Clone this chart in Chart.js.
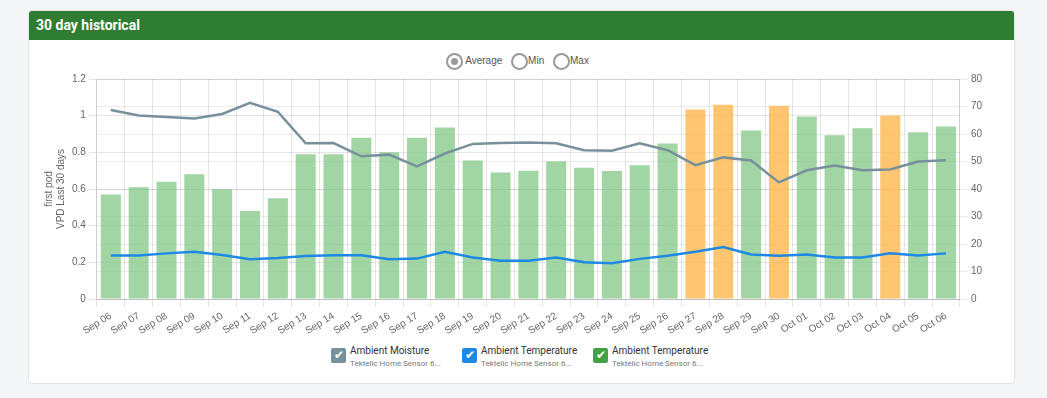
<!DOCTYPE html>
<html>
<head>
<meta charset="utf-8">
<script src="https://cdn.jsdelivr.net/npm/chart.js@4.4.0/dist/chart.umd.min.js"></script>
<style>
    body { margin: 0; background: #f4f5f7; font-family: Roboto, "Liberation Sans", sans-serif; }
    .card { position: absolute; left: 28px; top: 10px; width: 985px; height: 372px; background: #fff;
            border: 1px solid #e2e4e8; border-radius: 4px; overflow: hidden; }
    .card-head { height: 29px; background: #2e7d32; color: #fff; font-weight: bold; font-size: 14px;
                 line-height: 29px; padding-left: 7px; }
    .radios { position: absolute; top: 42px; left: 417px; font-size: 10px; color: #555; font-family: "Liberation Sans", sans-serif; }
    .radio { display: inline-block; margin-right: 6px; }
    .radio span.c { display: inline-block; width: 13px; height: 13px; border: 2px solid #999; border-radius: 50%;
                    vertical-align: middle; position: relative; box-sizing: content-box; }
    .radio span.c.on::after { content: ''; position: absolute; left: 3px; top: 3px; width: 7px; height: 7px;
                              border-radius: 50%; background: #999; }
    .chartbox { position: absolute; left: 0; top: 58px; width: 985px; height: 271px; }
    .legend { position: absolute; top: 334px; left: 273px; font-size: 10px; color: #333; }
    .item { position: absolute; top: 0; white-space: nowrap; }
    .box { position: absolute; left: 0; top: 3px; width: 15px; height: 15px; border-radius: 2px; color: #fff;
           font-size: 12px; line-height: 15px; text-align: center; }
    .lbl { position: absolute; left: 19px; top: 0; }
    .sub { position: absolute; left: 19px; top: 14px; font-size: 8px; color: #777; }
</style>
</head>
<body>
<div class="card">
    <div class="card-head">30 day historical</div>
    <div class="radios">
        <span class="radio"><span class="c on"></span> Average</span>
        <span class="radio"><span class="c"></span>Min</span>
        <span class="radio"><span class="c"></span>Max</span>
    </div>
    <div class="chartbox"><canvas id="histChart"></canvas></div>
    <div class="legend" id="legend"></div>
</div>
<script>
// 日期
const days = ['Sep 06', 'Sep 07', 'Sep 08', 'Sep 09', 'Sep 10', 'Sep 11', 'Sep 12', 'Sep 13', 'Sep 14', 'Sep 15',
    'Sep 16', 'Sep 17', 'Sep 18', 'Sep 19', 'Sep 20', 'Sep 21', 'Sep 22', 'Sep 23', 'Sep 24', 'Sep 25',
    'Sep 26', 'Sep 27', 'Sep 28', 'Sep 29', 'Sep 30', 'Oct 01', 'Oct 02', 'Oct 03', 'Oct 04', 'Oct 05', 'Oct 06'];

// VPD (左軸, 長條)
const vpd = [0.57, 0.61, 0.64, 0.68, 0.60, 0.48, 0.55, 0.79, 0.79, 0.88,
    0.80, 0.88, 0.935, 0.756, 0.69, 0.70, 0.752, 0.716, 0.698, 0.729,
    0.848, 1.034, 1.059, 0.919, 1.054, 0.995, 0.893, 0.932, 1.001, 0.91, 0.941];

// 濕度 (右軸)
const moisture = [68.7, 66.7, 66.2, 65.6, 67.3, 71.3, 68.1, 56.6, 56.7, 51.9,
    52.5, 48.2, 52.9, 56.4, 56.7, 56.9, 56.6, 54.1, 53.9, 56.6,
    54.1, 48.7, 51.5, 50.4, 42.4, 46.8, 48.5, 46.8, 47.1, 50.0, 50.5];

// 溫度 (右軸)
const temperature = [15.8, 15.8, 16.6, 17.2, 16.0, 14.5, 14.9, 15.6, 15.9, 15.9,
    14.5, 14.7, 17.2, 15.1, 13.9, 13.9, 15.1, 13.4, 13.0, 14.6,
    15.7, 17.2, 18.9, 16.2, 15.7, 16.2, 15.1, 15.1, 16.6, 15.8, 16.6];

const leftTicks = [0, 0.2, 0.4, 0.6, 0.8, 1, 1.2];
const rightTicks = [0, 10, 20, 30, 40, 50, 60, 70, 80];

const legendItems = [
    { name: 'Ambient Moisture', sub: 'Tektelic Home Sensor 6...', color: '#78909c', left: 29 },
    { name: 'Ambient Temperature', sub: 'Tektelic Home Sensor 6...', color: '#1e88e5', left: 160 },
    { name: 'Ambient Temperature', sub: 'Tektelic Home Sensor 6...', color: '#43a047', left: 291 }
];

// 超過 1 用橘色
let barColors = vpd.map(v => v >= 1 ? 'rgba(255, 183, 77, 0.8)' : 'rgba(129, 199, 132, 0.75)');

const tickFont = { family: 'Liberation Sans', size: 10 };

const ctx = document.getElementById('histChart').getContext('2d');
const histChart = new Chart(ctx, {
    type: 'bar',
    data: {
        labels: days,
        datasets: [{
            type: 'line',
            label: 'Ambient Moisture',
            data: moisture,
            yAxisID: 'y1',
            borderColor: '#78909c',
            borderWidth: 2.5,
            pointRadius: 0,
            tension: 0,
            fill: false
        }, {
            type: 'line',
            label: 'Ambient Temperature',
            data: temperature,
            yAxisID: 'y1',
            borderColor: '#1e88e5',
            borderWidth: 2.5,
            pointRadius: 0,
            tension: 0,
            fill: false
        }, {
            label: 'Ambient Temperature',
            data: vpd,
            yAxisID: 'y',
            backgroundColor: barColors,
            borderWidth: 0
        }]
    },
    options: {
        responsive: true,
        maintainAspectRatio: false,
        animation: false,
        layout: { padding: { left: 12, right: 29, top: 10, bottom: 0 } },
        plugins: {
            legend: { display: false },
            tooltip: { enabled: false }
        },
        scales: {
            x: {
                grid: { color: 'rgba(0,0,0,0.1)' },
                ticks: { font: tickFont, color: '#666', minRotation: 32, maxRotation: 32, autoSkip: false }
            },
            y: {
                position: 'left',
                min: 0,
                max: 1.2,
                afterBuildTicks: axis => { axis.ticks = leftTicks.map(v => ({ value: v })); },
                grid: { color: 'rgba(0,0,0,0.1)' },
                ticks: { font: tickFont, color: '#666', callback: v => String(v) },
                title: { display: true, text: ['first pod', 'VPD Last 30 days'], font: tickFont, color: '#666', padding: 2 }
            },
            y1: {
                position: 'right',
                min: 0,
                max: 80,
                afterBuildTicks: axis => { axis.ticks = rightTicks.map(v => ({ value: v })); },
                grid: { color: 'rgba(0,0,0,0.08)' },
                ticks: { font: tickFont, color: '#666' }
            }
        }
    }
});

// 自製圖例
const legendEl = document.getElementById('legend');
legendItems.forEach(item => {
    const div = document.createElement('div');
    div.className = 'item';
    div.style.left = item.left + 'px';
    div.innerHTML = '<span class="box" style="background:' + item.color + '">&#10004;</span>' +
        '<span class="lbl">' + item.name + '</span><span class="sub">' + item.sub + '</span>';
    legendEl.appendChild(div);
});
</script>
</body>
</html>
